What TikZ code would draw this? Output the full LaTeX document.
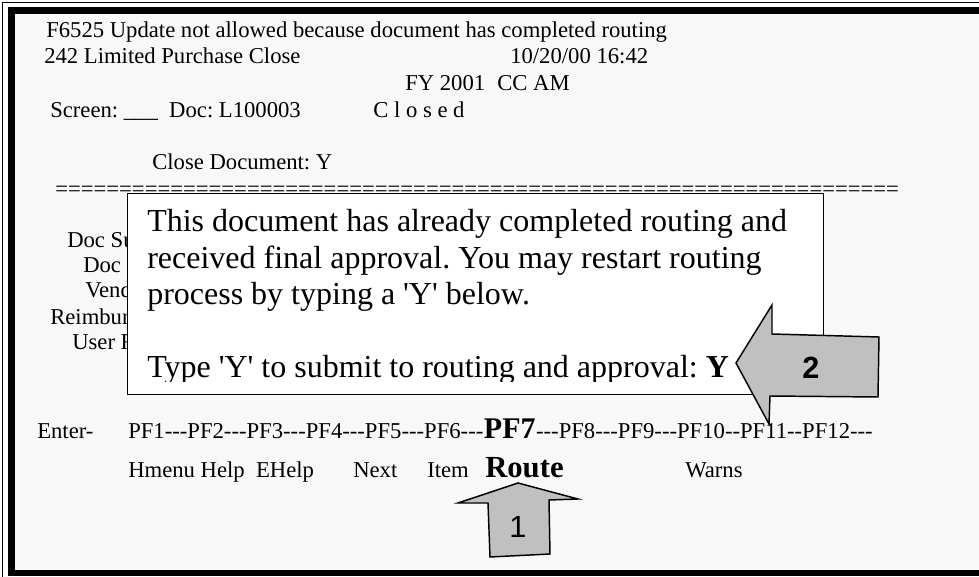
\documentclass[tikz,border=0pt]{standalone}
\usepackage{fontspec}
\newfontfamily\tnr{Liberation Serif}
\newfontfamily\arialf{Liberation Sans}
\newcommand\hyp{-\kern0pt}
\newcommand\sq{\textquotesingle}
\definecolor{bgc}{RGB}{248,248,248}
\definecolor{arrowgray}{RGB}{192,192,192}
\frenchspacing
\begin{document}
\begin{tikzpicture}[x=0.75pt,y=-0.75pt,
  scr/.style={anchor=base west, inner sep=0pt, font=\tnr\fontsize{17}{20}\selectfont},
  boxtxt/.style={anchor=base west, inner sep=0pt, font=\tnr\fontsize{24}{28}\selectfont},
  bigbold/.style={anchor=base west, inner sep=0pt, font=\tnr\bfseries\fontsize{23}{26}\selectfont},
  bigarrow/.style={fill=arrowgray, draw=black, line width=1.1pt, line join=miter},
  arrowlbl/.style={inner sep=0pt, font=\arialf\fontsize{23}{25}\selectfont}]
\useasboundingbox (0,0) rectangle (979,577);
\clip (0,0) rectangle (979,577);
% frame
\fill[white] (0,0) rectangle (979,577);
\draw[line width=1.1pt] (2.5,2.5) rectangle (1000,600);
\fill[black] (8,7) rectangle (1000,576);
\fill[bgc] (15,14) rectangle (1000,570);
% screen header text
\node[scr] (l1) at (46,37.7) {F6525 Update not allowed because document has completed routing};
\node[scr] (l2a) at (44,64) {242 Limited Purchase Close};
\node[scr] (l2b) at (510,64) {10/20/00 16:42};
\node[scr] (l3a) at (405,91) {FY 2001};
\node[scr] (l3b) at (497,91) {CC AM};
\node[scr] (l4a) at (50,118) {Screen: \_\_\_\ \ Doc: L100003};
\node[scr] (l4b) at (373,118) {C l o s e d};
\node[scr] (l5) at (152,170) {Close Document: Y};
\node[scr] (eq) at (55,196.5) {==================================================================};
% labels partly hidden by the pop-up box
\node[scr] (d1) at (67,248) {Doc Su};
\node[scr] (d2) at (83,273) {Doc};
\node[scr] (d3) at (85,298) {Vend};
\node[scr] (d4) at (50,325) {Reimbur};
\node[scr] (d5) at (72,350) {User F};
% pop-up box
\node[draw=black, fill=white, line width=1.1pt, anchor=north west, minimum width=696*0.75pt, minimum height=201*0.75pt, inner sep=0pt] (popup) at (127,193) {};
\begin{scope}
\clip (127,193) rectangle (823,382);
\node[boxtxt] (p1) at (147,232) {This document has already completed routing and};
\node[boxtxt] (p2) at (147,269) {received final approval. You may restart routing};
\node[boxtxt] (p3) at (147,305) {process by typing a \sq Y\sq\ below.};
\node[boxtxt] (p4) at (147,378) {Type \sq Y\sq\ to submit to routing and approval: \textbf{Y}};
\end{scope}
% function key lines
\node[scr] (enter) at (37,439) {Enter-};
\node[scr] (pfa) at (128,439) {PF1\hyp\hyp\hyp PF2\hyp\hyp\hyp PF3\hyp\hyp\hyp PF4\hyp\hyp\hyp PF5\hyp\hyp\hyp PF6\hyp\hyp\hyp};
\node[bigbold, font=\tnr\bfseries\fontsize{22.5}{25}\selectfont] (pf7) at (pfa.base east) {PF7};
\node[scr] (pfb) at (pf7.base east) {\hyp\hyp\hyp PF8\hyp\hyp\hyp PF9\hyp\hyp\hyp PF10\hyp\hyp PF11\hyp\hyp PF12\hyp\hyp\hyp};
\node[scr] (k1) at (128,477) {Hmenu Help\ \ EHelp};
\node[scr] (k2) at (353,477) {Next};
\node[scr] (k3) at (427,477) {Item};
\node[bigbold] (route) at (485,477) {Route};
\node[scr] (k4) at (685,477) {Warns};
% arrow 1 (up)
\draw[bigarrow] (518,483) -- (578,499) -- (549,500) -- (550,554) -- (490,557) -- (488,503) -- (458,503) -- cycle;
\node[arrowlbl] (a1) at (518,527) {1};
% arrow 2 (left)
\draw[bigarrow] (736,363) -- (772,305) -- (772,334) -- (879,337) -- (878,397) -- (770,396) -- (769,424) -- cycle;
\node[arrowlbl, font=\arialf\bfseries\fontsize{23}{25}\selectfont] (a2) at (811,368) {2};
\end{tikzpicture}
\end{document}
